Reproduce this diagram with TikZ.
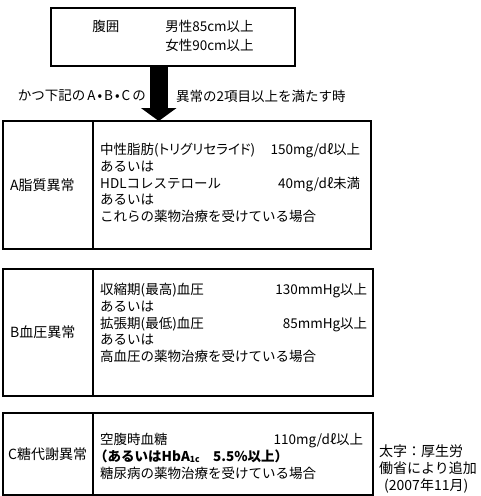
\documentclass[tikz,border=0pt]{standalone}
\usepackage{fontspec}
\newfontfamily\jp{Noto Sans CJK JP}
\newfontfamily\jpnarrow[RawFeature=+palt]{Noto Sans CJK JP}
\usetikzlibrary{positioning, arrows.meta}
\newcommand\rfill{\hskip 0pt plus 1filll}

\begin{document}
\begin{tikzpicture}[x=1pt, y=-1pt,
	cell/.style={draw, line width=1.2pt, outer sep=0pt, inner sep=0pt, anchor=north west},
	lbl/.style={font=\jp\fontsize{14}{16}\selectfont, inner sep=0pt, anchor=west},
	body/.style={font=\jp\fontsize{13.5}{16.7}\selectfont, align=left, inner sep=0pt, anchor=north west},
	condtext/.style={font=\jp\fontsize{13.5}{16}\selectfont, inner sep=0pt},
	note/.style={font=\jp\fontsize{14}{17}\selectfont, align=left, inner sep=0pt, anchor=north west}]
	\useasboundingbox (0,0) rectangle (480,496);
	
	% waist
	\node[cell, minimum width=244, minimum height=58, font=\jp\fontsize{13.5}{19}\selectfont] (waist) at (51,8)
		{\begin{tabular}{@{}l@{\hspace{46pt}}l@{}}腹囲 & 男性85cm以上\\ & 女性90cm以上\end{tabular}};
	
	% A
	\node[cell, minimum width=90, minimum height=128] (Aleft) at (3,121) {};
	\node[cell, minimum width=278, minimum height=128] (Aright) at (Aleft.north east) {};
	\node[lbl] (Aname) at ([xshift=7pt]Aleft.west) {A脂質異常};
	\node[body, text width=260] (Atext) at (100,143.3)
		{中性脂肪({\jpnarrow トリグリセライド})\rfill 150mg/dℓ以上\\あるいは\\HDLコレステロール\rfill 40mg/dℓ未満\\あるいは\\これらの薬物治療を受けている場合};
	
	% B
	\node[cell, minimum width=90, minimum height=127] (Bleft) at (3,269) {};
	\node[cell, minimum width=280, minimum height=127] (Bright) at (Bleft.north east) {};
	\node[lbl] (Bname) at ([xshift=7pt]Bleft.west) {B血圧異常};
	\node[body, text width=267] (Btext) at (100,283.3)
		{収縮期(最高)血圧\rfill 130mmHg以上\\あるいは\\拡張期(最低)血圧\rfill 85mmHg以上\\あるいは\\高血圧の薬物治療を受けている場合};
	
	% C
	\node[cell, minimum width=90, minimum height=82] (Cleft) at (3,413) {};
	\node[cell, minimum width=280, minimum height=82] (Cright) at (Cleft.north east) {};
	\node[lbl] (Cname) at ([xshift=5pt]Cleft.west) {C糖代謝異常};
	\node[body, text width=263] (Ctext) at (100,433.3)
		{空腹時血糖\rfill 110mg/dℓ以上\\\leavevmode{\bfseries\kern-6pt（あるいはHbA\raisebox{-1pt}{\fontsize{8.5}{8.5}\selectfont 1c}　5.5\%以上）}\\糖尿病の薬物治療を受けている場合};
	\node[note] (added) at (379,445) {太字：厚生労\\働省により追加\\\hspace*{5pt}(2007年11月)};
	
	% arrow and condition
	\coordinate (shaft) at (158.75,0);
	\draw[line width=17.5pt, -{Triangle[width=35pt, length=13pt]}] (waist.south -| shaft) -- (Aright.north -| shaft);
	\node[condtext, anchor=east] (condL) at (146,96) {かつ下記の\kern2pt A\kern2pt•\kern2pt B\kern2pt•\kern2pt C\kern2pt の};
	\node[condtext, anchor=west] (condR) at (176,96) {異常の2項目以上を満たす時};
\end{tikzpicture}
\end{document}
